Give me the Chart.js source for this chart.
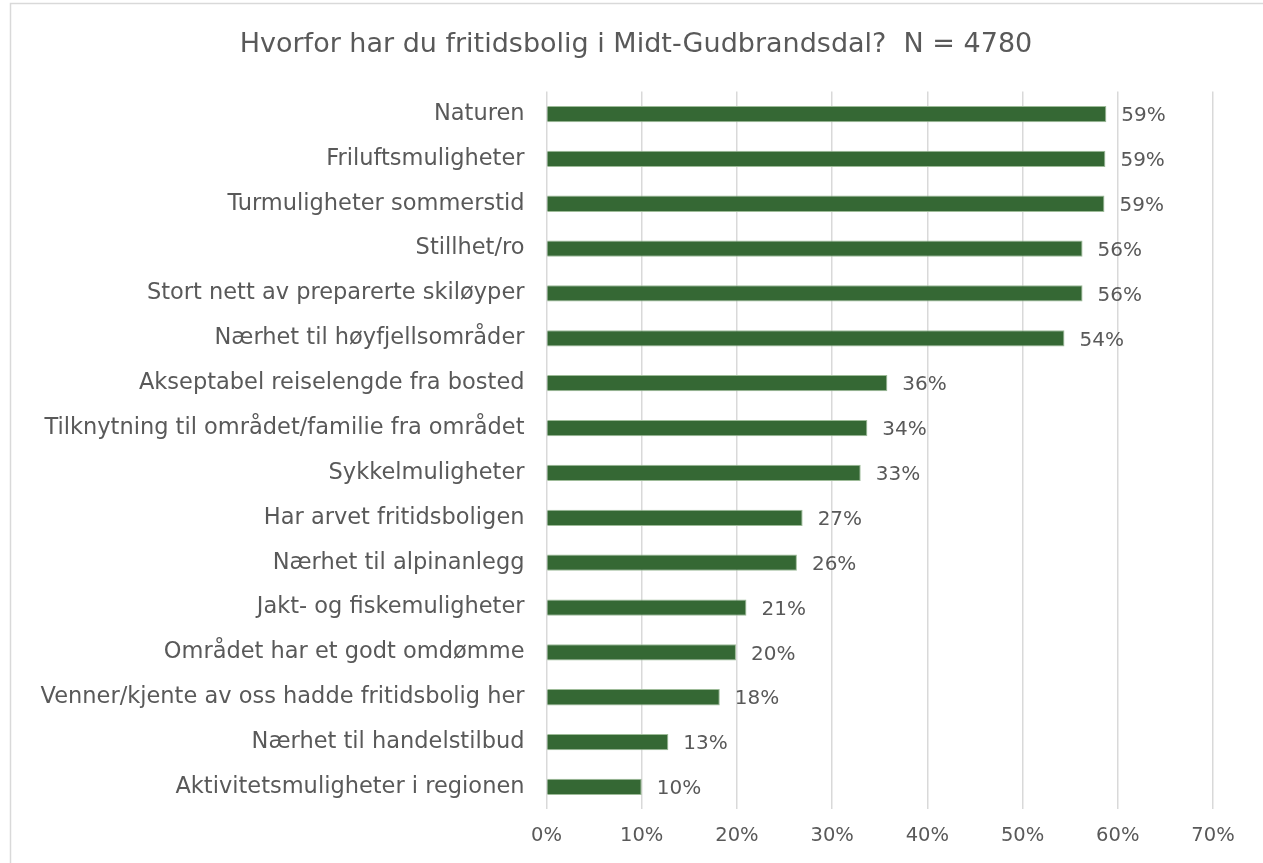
<!DOCTYPE html>
<html>
<head>
<meta charset="utf-8">
<script src="https://cdn.jsdelivr.net/npm/chart.js@4"></script>
<style>
  html, body { margin: 0; padding: 0; background: #fff; }
  #wrap { position: relative; width: 1263px; height: 863px; }
</style>
</head>
<body>
<div id="wrap"><canvas id="c" width="1263" height="863"></canvas></div>
<script>
const chartTitle = 'Hvorfor har du fritidsbolig i Midt-Gudbrandsdal?  N = 4780';
const categories = [
  'Naturen',
  'Friluftsmuligheter',
  'Turmuligheter sommerstid',
  'Stillhet/ro',
  'Stort nett av preparerte skiløyper',
  'Nærhet til høyfjellsområder',
  'Akseptabel reiselengde fra bosted',
  'Tilknytning til området/familie fra området',
  'Sykkelmuligheter',
  'Har arvet fritidsboligen',
  'Nærhet til alpinanlegg',
  'Jakt- og fiskemuligheter',
  'Området har et godt omdømme',
  'Venner/kjente av oss hadde fritidsbolig her',
  'Nærhet til handelstilbud',
  'Aktivitetsmuligheter i regionen'
];
const percentValues = [58.8, 58.7, 58.6, 56.3, 56.3, 54.4, 35.8, 33.7, 33.0, 26.9, 26.3, 21.0, 19.9, 18.2, 12.8, 10.0];
const xTickValues = [0, 10, 20, 30, 40, 50, 60, 70];

const FONT = "'DejaVu Sans', sans-serif";
const TEXT = '#595959';

const dataLabels = {
  id: 'dataLabels',
  afterDatasetsDraw(chart) {
    const ctx = chart.ctx;
    const meta = chart.getDatasetMeta(0);
    ctx.save();
    ctx.font = '20px ' + FONT;
    ctx.fillStyle = TEXT;
    ctx.textAlign = 'left';
    ctx.textBaseline = 'middle';
    meta.data.forEach((bar, i) => {
      ctx.fillText(Math.round(percentValues[i]) + '%', bar.x + 15, bar.y + 2);
    });
    ctx.restore();
  }
};

const frameAndTitle = {
  id: 'frameAndTitle',
  beforeDraw(chart) {
    const ctx = chart.ctx;
    ctx.save();
    ctx.fillStyle = '#fff';
    ctx.fillRect(0, 0, chart.width, chart.height);
    ctx.strokeStyle = '#d9d9d9';
    ctx.lineWidth = 1.5;
    ctx.strokeRect(10.5, 3.5, 3000, 3000);
    ctx.font = '27px ' + FONT;
    ctx.fillStyle = TEXT;
    ctx.textAlign = 'center';
    ctx.textBaseline = 'middle';
    ctx.fillText(chartTitle, 636, 45);
    ctx.restore();
  }
};

new Chart(document.getElementById('c'), {
  type: 'bar',
  data: {
    labels: categories,
    datasets: [{
      data: percentValues,
      backgroundColor: '#356834',
      borderColor: '#9dbb98',
      borderWidth: 1,
      categoryPercentage: 1,
      barPercentage: 0.363
    }]
  },
  options: {
    indexAxis: 'y',
    responsive: false,
    animation: false,
    devicePixelRatio: 1,
    layout: { padding: { left: 0, right: 50, top: 91.6, bottom: 0 } },
    plugins: {
      legend: { display: false },
      tooltip: { enabled: false },
      title: { display: false }
    },
    scales: {
      x: {
        min: 0,
        max: 70,
        afterBuildTicks(scale) { scale.ticks = xTickValues.map(v => ({ value: v })); },
        afterFit(scale) { scale.height = 53.6; },
        grid: { color: '#d9d9d9', lineWidth: 1.5, drawTicks: false },
        border: { display: false },
        ticks: {
          color: TEXT,
          padding: 15,
          font: { family: FONT, size: 19.5 },
          callback: v => v + '%'
        }
      },
      y: {
        afterFit(scale) { scale.width = 546.5; },
        grid: { display: false, drawTicks: false },
        border: { display: false },
        ticks: {
          color: TEXT,
          padding: 22,
          font: { family: FONT, size: 22.5 }
        }
      }
    }
  },
  plugins: [frameAndTitle, dataLabels]
});
</script>
</body>
</html>
